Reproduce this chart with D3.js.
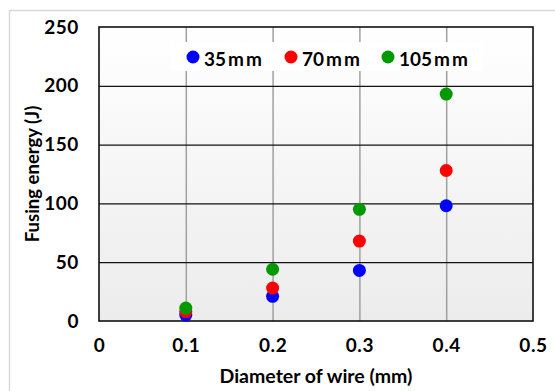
<!DOCTYPE html>
<html>
<head>
<meta charset="utf-8">
<script src="https://cdn.jsdelivr.net/npm/d3@7/dist/d3.min.js"></script>
<style>
  html, body { margin: 0; padding: 0; background: #fff; }
  svg { display: block; }
  text { font-family: "Lato", "Open Sans", sans-serif; font-weight: 700; fill: #000; }
</style>
</head>
<body>
<svg id="chart" width="555" height="391"></svg>
<script>
// Wire diameters (mm) and fusing energy (J) per wire length
const diameters = [0.1, 0.2, 0.3, 0.4];
const energy35 = [5, 21, 43, 98];
const energy70 = [8, 28, 68, 128];
const energy105 = [11, 44, 95, 193];
const seriesNames = ["35mm", "70mm", "105mm"];
const seriesColors = ["#0000ff", "#ff0000", "#009900"];
const xTicks = [0, 0.1, 0.2, 0.3, 0.4, 0.5];
const yTicks = [0, 50, 100, 150, 200, 250];

const series = [energy35, energy70, energy105].map((vals, i) => ({
  name: seriesNames[i],
  color: seriesColors[i],
  points: vals.map((v, j) => ({ x: diameters[j], y: v }))
}));

const svg = d3.select("#chart");
const plotL = 99, plotR = 533, plotT = 27, plotB = 321;

const x = d3.scaleLinear().domain([0, 0.5]).range([plotL, plotR]);
const y = d3.scaleLinear().domain([0, 250]).range([plotB, plotT]);

// Outer chart frame
svg.append("rect")
  .attr("x", 9.5).attr("y", 10.5).attr("width", 600).attr("height", 500)
  .attr("fill", "none").attr("stroke", "#d9d9d9").attr("stroke-width", 1.5);

// Plot-area background gradient
const defs = svg.append("defs");
const grad = defs.append("linearGradient").attr("id", "bg")
  .attr("x1", 0).attr("y1", 0).attr("x2", 0).attr("y2", 1);
grad.append("stop").attr("offset", "0%").attr("stop-color", "#ffffff");
grad.append("stop").attr("offset", "100%").attr("stop-color", "#ececec");

svg.append("rect")
  .attr("x", plotL).attr("y", plotT)
  .attr("width", plotR - plotL).attr("height", plotB - plotT)
  .attr("fill", "url(#bg)");

// Vertical gridlines
svg.append("g")
  .attr("transform", `translate(0,${plotB})`)
  .call(d3.axisBottom(x).tickValues(xTicks.filter(t => t > 0 && t < 0.5))
    .tickSize(-(plotB - plotT)).tickFormat(""))
  .call(g => g.select(".domain").remove())
  .call(g => g.selectAll("line").attr("stroke", "#a0a0a0").attr("stroke-width", 1.5));

// Horizontal gridlines
svg.append("g")
  .attr("transform", `translate(${plotL},0)`)
  .call(d3.axisLeft(y).tickValues(yTicks.filter(t => t > 0 && t < 250))
    .tickSize(-(plotR - plotL)).tickFormat(""))
  .call(g => g.select(".domain").remove())
  .call(g => g.selectAll("line").attr("stroke", "#111").attr("stroke-width", 1.2));

// Legend box
svg.append("rect")
  .attr("x", 170).attr("y", 42).attr("width", 313).attr("height", 29)
  .attr("fill", "#ffffff");

// Plot border
svg.append("rect")
  .attr("x", plotL).attr("y", plotT)
  .attr("width", plotR - plotL).attr("height", plotB - plotT)
  .attr("fill", "none").attr("stroke", "#111").attr("stroke-width", 1.6);

const styleTicks = g => g.selectAll("text")
  .style("font-family", "Lato, 'Open Sans', sans-serif")
  .style("font-weight", 700).style("font-size", "19px")
  .style("letter-spacing", "0.6px").attr("fill", "#000");

// Y tick labels
svg.append("g")
  .attr("transform", `translate(${plotL},0)`)
  .call(d3.axisLeft(y).tickValues(yTicks).tickSize(0).tickPadding(20))
  .call(g => g.select(".domain").remove())
  .call(styleTicks);

// X tick labels
svg.append("g")
  .attr("transform", `translate(0,${plotB})`)
  .call(d3.axisBottom(x).tickValues(xTicks).tickSize(0).tickPadding(18)
    .tickFormat(d => d === 0 ? "0" : d3.format(".1f")(d)))
  .call(g => g.select(".domain").remove())
  .call(styleTicks);

// Axis titles
svg.append("text")
  .attr("x", 316).attr("y", 383)
  .attr("text-anchor", "middle").style("font-size", "19.5px")
  .text("Diameter of wire (mm)");

svg.append("text")
  .attr("transform", `translate(39,${(plotT + plotB) / 2}) rotate(-90)`)
  .attr("text-anchor", "middle").style("font-size", "18.5px")
  .text("Fusing energy (J)");

// Data points
series.forEach(s => {
  svg.append("g").selectAll("circle")
    .data(s.points)
    .join("circle")
    .attr("cx", d => x(d.x))
    .attr("cy", d => y(d.y))
    .attr("r", 6.5)
    .attr("fill", s.color);
});

// Legend entries
const legendX = [193, 291, 388];
series.forEach((s, i) => {
  svg.append("circle")
    .attr("cx", legendX[i]).attr("cy", 57).attr("r", 6.5).attr("fill", s.color);
  const t = svg.append("text")
    .attr("x", legendX[i] + 11).attr("y", 66)
    .style("font-size", "19px");
  const num = s.name.replace("mm", "");
  t.append("tspan").text(num);
  t.append("tspan").attr("dx", 2).style("letter-spacing", "2px").text("mm");
});
</script>
</body>
</html>
